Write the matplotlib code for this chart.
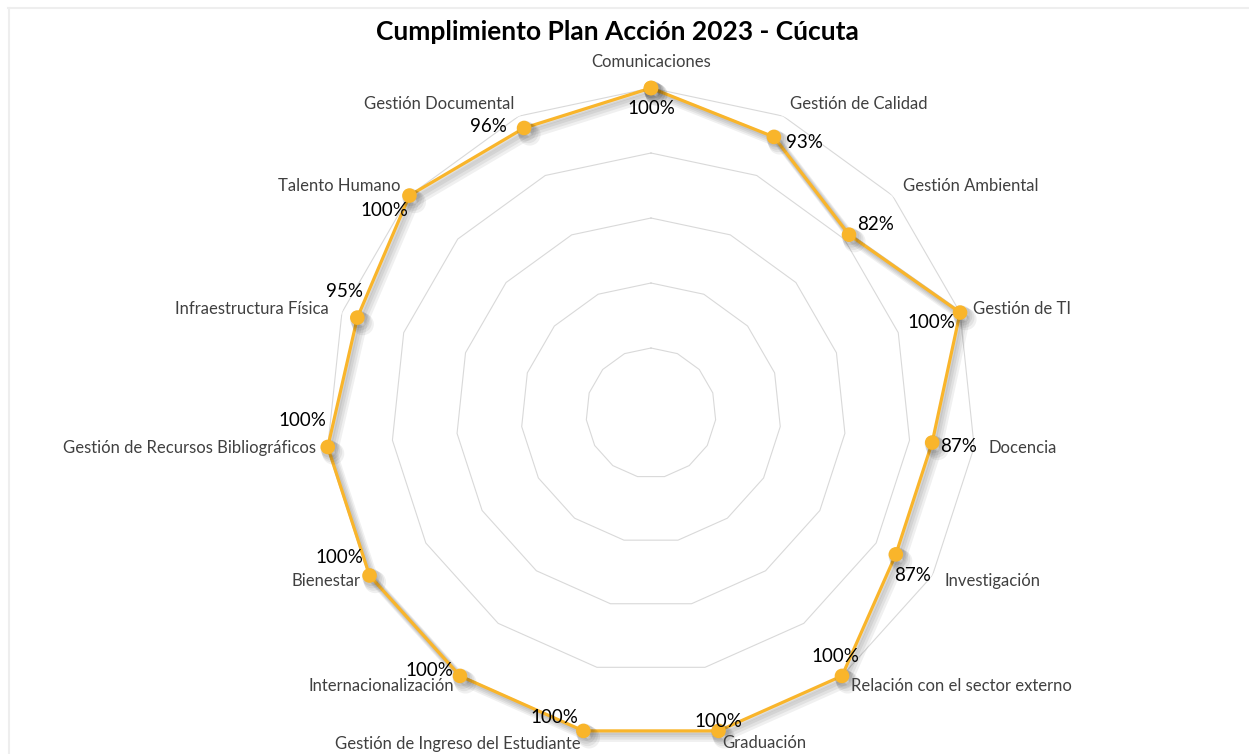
import numpy as np
import matplotlib
matplotlib.use("Agg")
import matplotlib.pyplot as plt
import matplotlib.patheffects as pe
from matplotlib.lines import Line2D

plt.rcParams['font.family'] = ['Lato', 'DejaVu Sans']

categories = ["Comunicaciones", "Gestión de Calidad", "Gestión Ambiental", "Gestión de TI",
              "Docencia", "Investigación", "Relación con el sector externo", "Graduación",
              "Gestión de Ingreso del Estudiante", "Internacionalización", "Bienestar",
              "Gestión de Recursos Bibliográficos", "Infraestructura Física",
              "Talento Humano", "Gestión Documental"]
values = [1.00, 0.93, 0.82, 1.00, 0.87, 0.87, 1.00, 1.00, 1.00, 1.00, 1.00, 1.00, 0.95, 1.00, 0.96]
rings = [0.2, 0.4, 0.6, 0.8, 1.0]

# offsets (points) of the percentage labels from each marker
val_offsets = [(0, -15), (22, -4), (19, 7), (-21, -7), (19, -3), (12, -15), (-5, 14),
               (0, 7), (-21, 10), (-22, 4), (-22, 13), (-18, 19), (-9, 19), (-18, -11), (-26, 1)]
# placement of category labels: (dx, dy) points from outer ring vertex, ha
cat_place = [(0, 18.5, 'center'), (5, 8.6, 'left'), (7.6, 6.8, 'left'), (9.4, 2.6, 'left'),
             (10, -0.7, 'left'), (9, -4, 'left'), (6.5, -7.2, 'left'), (2.4, -8.6, 'left'),
             (-1.7, -9.4, 'right'), (-4.3, -7.2, 'right'), (-6.8, -4, 'right'),
             (-8.5, -0.7, 'right'), (-9.3, 2.6, 'right'), (-6.1, 6.8, 'right'),
             (-3.5, 8.6, 'right')]

n = len(categories)
theta = np.arange(n) * 2 * np.pi / n

fig = plt.figure(figsize=(12.49, 7.54), dpi=100)
ax = fig.add_axes([0.2610, 0.0212, 0.5204, 0.8621], projection='polar')
ax.set_theta_offset(np.pi / 2)
ax.set_theta_direction(-1)
ax.set_ylim(0, 1)
ax.grid(False)
ax.spines['polar'].set_visible(False)
ax.set_xticks([])
ax.set_yticks([])
ax.patch.set_alpha(0)

closed = np.append(theta, theta[0])
for r in rings:
    ax.plot(closed, [r] * (n + 1), color='#D9D9D9', lw=0.8, zorder=1)

color = '#F9B52B'
shadow = [pe.SimpleLineShadow(offset=(o, -o * 1.2), shadow_color='#000000', alpha=0.06,
                              linewidth=2.3 + o)
          for o in (1.0, 2.0, 3.0, 4.0)]
ax.plot(closed, values + values[:1], color=color, lw=2.3, marker='o', markersize=9.5,
        zorder=3, clip_on=False, path_effects=shadow + [pe.Normal()])

for t, v, (dx, dy) in zip(theta, values, val_offsets):
    ax.annotate(f"{v:.0%}", (t, v), xytext=(dx, dy), textcoords='offset points',
                ha='center', va='center', fontsize=13.5, color='#000000', zorder=4,
                annotation_clip=False)

for t, c, (dx, dy, ha) in zip(theta, categories, cat_place):
    ax.annotate(c, (t, 1.0), xytext=(dx, dy), textcoords='offset points',
                ha=ha, va='center', fontsize=12, color='#404040',
                annotation_clip=False)

fig.text(617 / 1249, 1 - 32 / 754, "Cumplimiento Plan Acción 2023 - Cúcuta",
         ha='center', va='center', fontsize=19, fontweight='bold', color='#000000')

# light frame on top and left
fig.add_artist(Line2D([8 / 1249, 1], [1 - 8 / 754, 1 - 8 / 754], color='#EEEEEE', lw=1.5,
                      transform=fig.transFigure))
fig.add_artist(Line2D([9 / 1249, 9 / 1249], [0, 1 - 8 / 754], color='#EEEEEE', lw=1.5,
                      transform=fig.transFigure))

fig.savefig("out.png", dpi=100, facecolor='white')
